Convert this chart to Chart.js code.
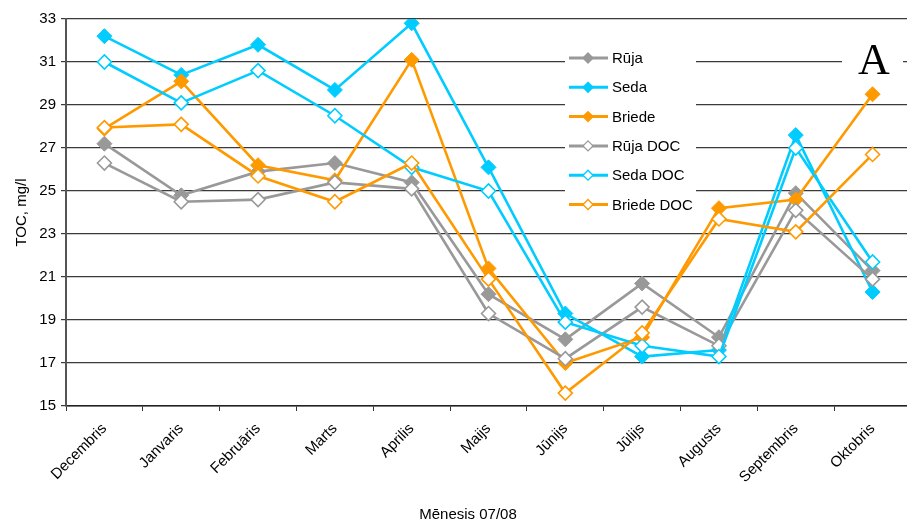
<!DOCTYPE html>
<html>
<head>
<meta charset="utf-8">
<script src="https://cdn.jsdelivr.net/npm/chart.js@4.4.1/dist/chart.umd.min.js"></script>
<style>
  html, body { margin: 0; padding: 0; background: #fff; }
  #wrap { width: 907px; height: 527px; overflow: hidden; }
</style>
</head>
<body>
<div id="wrap"><canvas id="tocChart" width="920" height="527"></canvas></div>
<script>
// Data
const months = ['Decembris', 'Janvaris', 'Februāris', 'Marts', 'Aprilis', 'Maijs', 'Jūnijs', 'Jūlijs', 'Augusts', 'Septembris', 'Oktobris'];
const rujaToc = [27.2, 24.8, 25.9, 26.3, 25.4, 20.2, 18.1, 20.7, 18.2, 24.9, 21.3];
const sedaToc = [32.2, 30.4, 31.8, 29.7, 32.8, 26.1, 19.3, 17.3, 17.6, 27.6, 20.3];
const briedeToc = [27.9, 30.1, 26.2, 25.5, 31.1, 21.4, 17.0, 18.2, 24.2, 24.6, 29.5];
const rujaDoc = [26.3, 24.5, 24.6, 25.4, 25.1, 19.3, 17.2, 19.6, 17.8, 24.1, 20.9];
const sedaDoc = [31.0, 29.1, 30.6, 28.5, 26.1, 25.0, 18.9, 17.8, 17.3, 27.0, 21.7];
const briedeDoc = [27.95, 28.1, 25.7, 24.5, 26.3, 20.9, 15.6, 18.4, 23.7, 23.1, 26.7];
const yTicks = [15, 17, 19, 21, 23, 25, 27, 29, 31, 33];

const GRAY = '#999999';
const CYAN = '#00ccff';
const ORANGE = '#ff9900';
const FONT = 'Arial, "Liberation Sans", sans-serif';

function tocSet(label, data, color, order) {
    return {
        label: label,
        data: data,
        borderColor: color,
        backgroundColor: color,
        borderWidth: 2.6,
        pointStyle: 'rectRot',
        pointRadius: 7.5,
        pointBackgroundColor: color,
        pointBorderColor: color,
        pointBorderWidth: 1,
        tension: 0,
        order: order
    };
}

function docSet(label, data, color, order) {
    return {
        label: label,
        data: data,
        borderColor: color,
        backgroundColor: '#ffffff',
        borderWidth: 2.6,
        pointStyle: 'rectRot',
        pointRadius: 7,
        pointBackgroundColor: '#ffffff',
        pointBorderColor: color,
        pointBorderWidth: 1.6,
        tension: 0,
        order: order
    };
}

// legend inside the plot, plus the "A" mark and x title
const overlayPlugin = {
    id: 'overlay',
    afterDraw(chart) {
        const ctx = chart.ctx;
        ctx.save();

        // legend box
        ctx.fillStyle = '#ffffff';
        ctx.fillRect(565, 38, 131, 184);
        chart.data.datasets.forEach((ds, i) => {
            const y = 58 + i * 29.3;
            ctx.strokeStyle = ds.borderColor;
            ctx.lineWidth = 3;
            ctx.beginPath();
            ctx.moveTo(569, y);
            ctx.lineTo(608, y);
            ctx.stroke();
            const r = 5;
            ctx.beginPath();
            ctx.moveTo(588, y - r);
            ctx.lineTo(588 + r, y);
            ctx.lineTo(588, y + r);
            ctx.lineTo(588 - r, y);
            ctx.closePath();
            ctx.fillStyle = ds.pointBackgroundColor;
            ctx.fill();
            ctx.lineWidth = 1.3;
            ctx.strokeStyle = ds.pointBorderColor;
            ctx.stroke();
            ctx.fillStyle = '#000';
            ctx.font = '15px ' + FONT;
            ctx.textAlign = 'left';
            ctx.textBaseline = 'middle';
            ctx.fillText(ds.label, 612, y + 1);
        });

        // panel letter
        ctx.fillStyle = '#ffffff';
        ctx.fillRect(842, 36, 61, 42);
        ctx.fillStyle = '#000';
        ctx.font = '44px "Liberation Serif", "Times New Roman", serif';
        ctx.textAlign = 'center';
        ctx.textBaseline = 'alphabetic';
        ctx.fillText('A', 874, 74);

        // x axis title
        ctx.font = '15px ' + FONT;
        ctx.textBaseline = 'middle';
        ctx.fillText('Mēnesis 07/08', 468, 515);

        ctx.restore();
    }
};

const ctx = document.getElementById('tocChart').getContext('2d');
const tocChart = new Chart(ctx, {
    type: 'line',
    data: {
        labels: months,
        datasets: [
            tocSet('Rūja', rujaToc, GRAY, 6),
            tocSet('Seda', sedaToc, CYAN, 5),
            tocSet('Briede', briedeToc, ORANGE, 4),
            docSet('Rūja DOC', rujaDoc, GRAY, 3),
            docSet('Seda DOC', sedaDoc, CYAN, 2),
            docSet('Briede DOC', briedeDoc, ORANGE, 1)
        ]
    },
    options: {
        responsive: false,
        animation: false,
        layout: {
            padding: { top: 19, right: 9, bottom: 0, left: 0 }
        },
        scales: {
            x: {
                offset: true,
                grid: {
                    offset: true,
                    drawOnChartArea: false,
                    drawTicks: true,
                    tickLength: 5,
                    color: '#333'
                },
                border: { color: '#222', width: 1.5 },
                ticks: {
                    color: '#000',
                    font: { family: FONT, size: 15 },
                    minRotation: 45,
                    maxRotation: 45,
                    padding: 9,
                    autoSkip: false
                },
                afterFit(scale) { scale.height = 121; }
            },
            y: {
                min: 15,
                max: 33,
                afterBuildTicks(scale) {
                    scale.ticks = yTicks.map(v => ({ value: v }));
                },
                grid: {
                    color: '#3a3a3a',
                    lineWidth: 1.2,
                    tickLength: 5
                },
                border: { color: '#555', width: 2 },
                ticks: {
                    color: '#000',
                    font: { family: FONT, size: 15 },
                    padding: 5
                },
                title: {
                    display: true,
                    text: 'TOC, mg/l',
                    color: '#000',
                    font: { family: FONT, size: 15 },
                    padding: { top: 13, bottom: 0 }
                },
                afterFit(scale) { scale.width = 66; }
            }
        },
        plugins: {
            legend: { display: false },
            tooltip: { enabled: false }
        }
    },
    plugins: [overlayPlugin]
});
</script>
</body>
</html>
